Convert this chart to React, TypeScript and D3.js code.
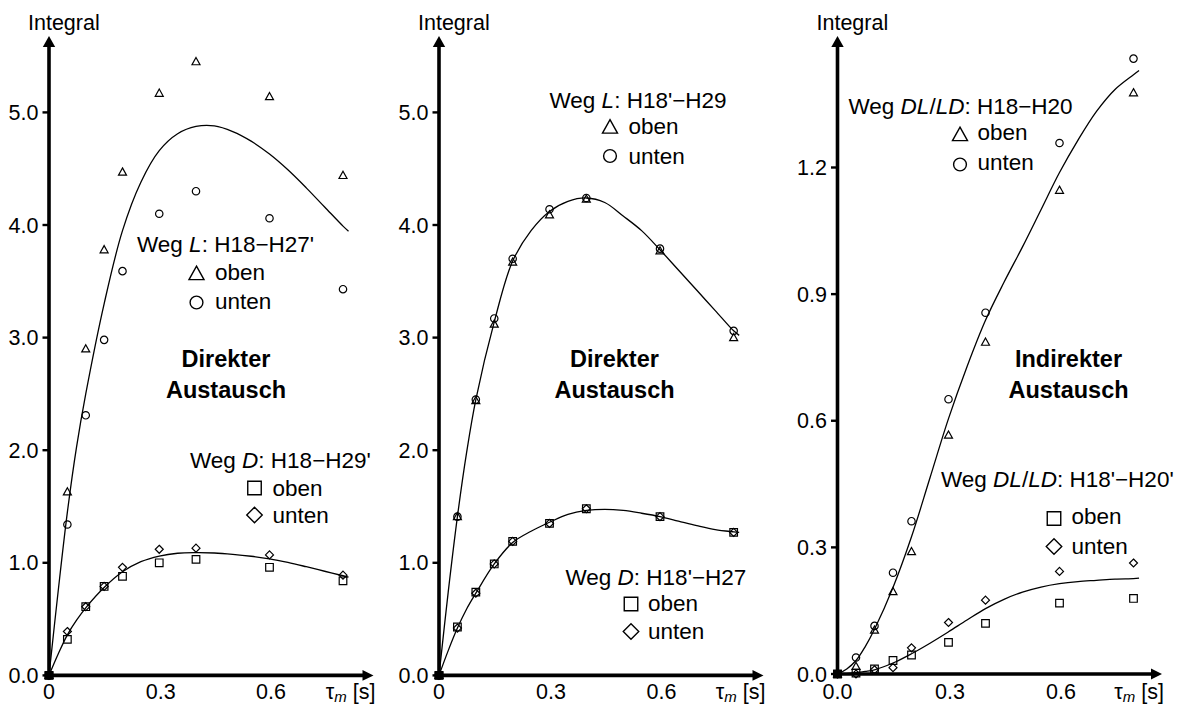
import React from "react";
import * as d3 from "d3";

// Mixing times (s) at which the cross-peak integrals were measured
const tm = [0, 0.05, 0.1, 0.15, 0.2, 0.3, 0.4, 0.6, 0.8];

// Panel 1 – direct exchange
const h18h27Oben = [0, 1.63, 2.9, 3.78, 4.47, 5.17, 5.45, 5.14, 4.44];
const h18h27Unten = [0, 1.34, 2.31, 2.98, 3.59, 4.1, 4.3, 4.06, 3.43];
const h18h29Oben = [0, 0.32, 0.61, 0.79, 0.88, 1.0, 1.03, 0.96, 0.84];
const h18h29Unten = [0, 0.39, 0.61, 0.79, 0.96, 1.12, 1.13, 1.07, 0.89];

// Panel 2 – direct exchange
const h18h29bOben = [0, 1.41, 2.44, 3.12, 3.67, 4.09, 4.23, 3.77, 3.0];
const h18h29bUnten = [0, 1.41, 2.45, 3.17, 3.7, 4.14, 4.24, 3.79, 3.06];
const h18h27bOben = [0, 0.43, 0.74, 0.99, 1.19, 1.35, 1.48, 1.41, 1.27];
const h18h27bUnten = [0, 0.42, 0.73, 0.99, 1.19, 1.35, 1.48, 1.41, 1.27];

// Panel 3 – indirect exchange
const h18h20Oben = [0, 0.018, 0.104, 0.195, 0.29, 0.566, 0.786, 1.146, 1.377];
const h18h20Unten = [0, 0.039, 0.114, 0.24, 0.362, 0.651, 0.856, 1.258, 1.458];
const h18h20bOben = [0, 0.002, 0.012, 0.032, 0.045, 0.075, 0.12, 0.168, 0.179];
const h18h20bUnten = [0, 0.0, 0.01, 0.015, 0.062, 0.122, 0.175, 0.243, 0.263];

// Fitted build-up curves, sampled along the mixing time
const fitT = [0, 0.025, 0.05, 0.075, 0.1, 0.15, 0.2, 0.25, 0.3, 0.35, 0.4, 0.45, 0.5, 0.55, 0.6, 0.65, 0.7, 0.75, 0.8, 0.815];
const fitH18H27 = [0, 0.75, 1.45, 2.03, 2.5, 3.3, 3.95, 4.38, 4.66, 4.81, 4.875, 4.88, 4.83, 4.745, 4.63, 4.49, 4.33, 4.16, 3.99, 3.945];
const fitH18H29 = [0, 0.19, 0.36, 0.49, 0.6, 0.78, 0.92, 1.01, 1.06, 1.085, 1.09, 1.087, 1.075, 1.058, 1.035, 1.003, 0.965, 0.925, 0.885, 0.872];
const fitH18H29b = [0, 0.74, 1.41, 1.98, 2.45, 3.14, 3.68, 3.95, 4.12, 4.21, 4.24, 4.2, 4.08, 3.95, 3.78, 3.6, 3.42, 3.24, 3.06, 3.02];
const fitH18H27b = [0, 0.22, 0.42, 0.59, 0.73, 0.99, 1.18, 1.28, 1.36, 1.43, 1.465, 1.475, 1.465, 1.44, 1.41, 1.37, 1.33, 1.295, 1.275, 1.27];
const fitH18H20 = [0, 0.012, 0.032, 0.065, 0.106, 0.205, 0.325, 0.465, 0.605, 0.728, 0.838, 0.928, 1.012, 1.1, 1.188, 1.265, 1.333, 1.385, 1.42, 1.43];
const fitH18H20b = [0, 0.001, 0.003, 0.006, 0.01, 0.026, 0.048, 0.073, 0.1, 0.128, 0.155, 0.177, 0.194, 0.206, 0.214, 0.219, 0.222, 0.225, 0.226, 0.227];

// Axis ticks
const xTicksA = [0, 0.3, 0.6];
const xTickLabelsA = ["0", "0.3", "0.6"];
const xTickLabelsC = ["0.0", "0.3", "0.6"];
const yTicksAB = [0, 1, 2, 3, 4, 5];
const yTicksC = [0, 0.3, 0.6, 0.9, 1.2];

const FONT = "'Liberation Sans', Arial, Helvetica, sans-serif";
const X_LABEL_BASELINE = 699;

type Sym = "tri" | "circ" | "sq" | "dia";

function symbolPath(s: Sym, size: number): string {
  const r = size / 2;
  if (s === "tri") {
    const h = size * 0.9;
    return `M0,${-h * 0.58}L${r},${h * 0.42}L${-r},${h * 0.42}Z`;
  }
  if (s === "sq") return `M${-r},${-r}H${r}V${r}H${-r}Z`;
  if (s === "dia") return `M0,${-r}L${r},0L0,${r}L${-r},0Z`;
  return `M${r},0A${r},${r} 0 1,1 ${-r},0A${r},${r} 0 1,1 ${r},0Z`;
}

interface Series {
  values: number[];
  sym: Sym;
}

interface LegendBlock {
  title: React.ReactNode;
  tx: number;
  ty: number;
  sx: number;
  lx: number;
  rows: { sym: Sym; label: string; cy: number; by: number }[];
}

interface PanelProps {
  x0: number;
  x06: number;
  yRange: [number, number];
  yMax: number;
  yTicks: number[];
  yFmt: (v: number) => string;
  xLabels: string[];
  fits: number[][];
  series: Series[];
  legends: LegendBlock[];
  bold: [string, string];
  boldX: number;
}

const symSizeData: Record<Sym, number> = { tri: 8, circ: 7.4, sq: 7.6, dia: 8 };
const symSizeLegend: Record<Sym, number> = { tri: 15, circ: 12.8, sq: 13.5, dia: 15.5 };

function Panel(p: PanelProps) {
  const x = d3.scaleLinear().domain([0, 0.6]).range([p.x0, p.x06]);
  const y = d3.scaleLinear().domain([0, p.yMax]).range(p.yRange);
  const ox = x(0);
  const oy = y(0);
  const tipX = ox + 324.5;
  const tipY = 36;
  const line = d3
    .line<number>()
    .x((_, i) => x(fitT[i]))
    .y((d) => y(d))
    .curve(d3.curveCatmullRom.alpha(0.5));

  return (
    <g fontFamily={FONT} fill="#000">
      {/* axes with arrowheads */}
      <line x1={ox} y1={oy + 2} x2={ox} y2={tipY + 9} stroke="#000" strokeWidth={3.6} />
      <path d={`M${ox},${tipY}L${ox - 6.2},${tipY + 11}L${ox + 6.2},${tipY + 11}Z`} fill="#000" />
      <line x1={ox - 2} y1={oy} x2={tipX - 9} y2={oy} stroke="#000" strokeWidth={3.6} />
      <path d={`M${tipX},${oy}L${tipX - 11},${oy - 5.4}L${tipX - 11},${oy + 5.4}Z`} fill="#000" />

      {p.yTicks.map((t) => (
        <g key={t}>
          <line x1={ox - 6.5} x2={ox} y1={y(t)} y2={y(t)} stroke="#000" strokeWidth={2.4} />
          <text x={ox - 10.5} y={y(t) + 7.6} fontSize={21.5} textAnchor="end">
            {p.yFmt(t)}
          </text>
        </g>
      ))}
      {xTicksA.map((t, i) => (
        <text key={t} x={x(t) + (t > 0 ? 1.5 : 0)} y={X_LABEL_BASELINE} fontSize={21.5} textAnchor="middle">
          {p.xLabels[i]}
        </text>
      ))}
      <text x={tipX + 2} y={X_LABEL_BASELINE} fontSize={21.5} textAnchor="end">
        τ<tspan fontSize={15} fontStyle="italic" dy={2.5}>m</tspan>
        <tspan dy={-2.5}> [s]</tspan>
      </text>
      <text x={ox - 21} y={30} fontSize={21.5}>
        Integral
      </text>

      {/* fitted curves */}
      {p.fits.map((f, i) => (
        <path key={i} d={line(f) || ""} fill="none" stroke="#000" strokeWidth={1.3} />
      ))}

      {/* measured points */}
      {p.series.map((s, si) =>
        s.values.map((v, i) => (
          <path
            key={`${si}-${i}`}
            d={symbolPath(s.sym, symSizeData[s.sym])}
            transform={`translate(${x(tm[i])},${y(v)})`}
            fill="none"
            stroke="#000"
            strokeWidth={1.2}
          />
        ))
      )}
      <rect x={ox - 4.5} y={oy - 4} width={9} height={8} fill="#000" />

      {/* legends */}
      {p.legends.map((l, li) => (
        <g key={li}>
          <text x={l.tx} y={l.ty} fontSize={22.5}>
            {l.title}
          </text>
          {l.rows.map((r, ri) => (
            <g key={ri}>
              <path
                d={symbolPath(r.sym, symSizeLegend[r.sym])}
                transform={`translate(${l.sx},${r.cy})`}
                fill="none"
                stroke="#000"
                strokeWidth={1.4}
              />
              <text x={l.lx} y={r.by} fontSize={22.5}>
                {r.label}
              </text>
            </g>
          ))}
        </g>
      ))}

      <text x={p.boldX} y={367} fontSize={23.5} fontWeight="bold" textAnchor="middle">
        {p.bold[0]}
      </text>
      <text x={p.boldX} y={398} fontSize={23.5} fontWeight="bold" textAnchor="middle">
        {p.bold[1]}
      </text>
    </g>
  );
}

const fmt1 = (v: number) => v.toFixed(1);

export default function App() {
  return (
    <svg
      width={1177}
      height={704}
      viewBox="0 0 1177 704"
      style={{ position: "absolute", left: 0, top: 0, background: "#fff" }}
    >
      <Panel
        x0={49}
        x06={269.5}
        yRange={[675.4, 112.4]}
        yMax={5}
        yTicks={yTicksAB}
        yFmt={fmt1}
        xLabels={xTickLabelsA}
        fits={[fitH18H27, fitH18H29]}
        series={[
          { values: h18h27Oben, sym: "tri" },
          { values: h18h27Unten, sym: "circ" },
          { values: h18h29Oben, sym: "sq" },
          { values: h18h29Unten, sym: "dia" },
        ]}
        legends={[
          {
            title: (
              <>
                Weg <tspan fontStyle="italic">L</tspan>: H18−H27'
              </>
            ),
            tx: 137,
            ty: 252,
            sx: 196.5,
            lx: 215,
            rows: [
              { sym: "tri", label: "oben", cy: 274, by: 279.5 },
              { sym: "circ", label: "unten", cy: 302.5, by: 309 },
            ],
          },
          {
            title: (
              <>
                Weg <tspan fontStyle="italic">D</tspan>: H18−H29'
              </>
            ),
            tx: 190,
            ty: 467.5,
            sx: 254.5,
            lx: 272.5,
            rows: [
              { sym: "sq", label: "oben", cy: 488, by: 495.5 },
              { sym: "dia", label: "unten", cy: 515, by: 522.5 },
            ],
          },
        ]}
        bold={["Direkter", "Austausch"]}
        boldX={226}
      />
      <Panel
        x0={439}
        x06={660}
        yRange={[675.4, 112.4]}
        yMax={5}
        yTicks={yTicksAB}
        yFmt={fmt1}
        xLabels={xTickLabelsA}
        fits={[fitH18H29b, fitH18H27b]}
        series={[
          { values: h18h29bOben, sym: "tri" },
          { values: h18h29bUnten, sym: "circ" },
          { values: h18h27bOben, sym: "sq" },
          { values: h18h27bUnten, sym: "dia" },
        ]}
        legends={[
          {
            title: (
              <>
                Weg <tspan fontStyle="italic">L</tspan>: H18'−H29
              </>
            ),
            tx: 549.5,
            ty: 107.5,
            sx: 610,
            lx: 628.5,
            rows: [
              { sym: "tri", label: "oben", cy: 127.5, by: 133.5 },
              { sym: "circ", label: "unten", cy: 156, by: 163.5 },
            ],
          },
          {
            title: (
              <>
                Weg <tspan fontStyle="italic">D</tspan>: H18'−H27
              </>
            ),
            tx: 565.5,
            ty: 584.5,
            sx: 631,
            lx: 648,
            rows: [
              { sym: "sq", label: "oben", cy: 604, by: 611 },
              { sym: "dia", label: "unten", cy: 631.5, by: 638.5 },
            ],
          },
        ]}
        bold={["Direkter", "Austausch"]}
        boldX={614.5}
      />
      <Panel
        x0={837.5}
        x06={1059.5}
        yRange={[674, 167.5]}
        yMax={1.2}
        yTicks={yTicksC}
        yFmt={fmt1}
        xLabels={xTickLabelsC}
        fits={[fitH18H20, fitH18H20b]}
        series={[
          { values: h18h20Oben, sym: "tri" },
          { values: h18h20Unten, sym: "circ" },
          { values: h18h20bOben, sym: "sq" },
          { values: h18h20bUnten, sym: "dia" },
        ]}
        legends={[
          {
            title: (
              <>
                Weg <tspan fontStyle="italic">DL</tspan>/<tspan fontStyle="italic">LD</tspan>: H18−H20
              </>
            ),
            tx: 848.5,
            ty: 113.5,
            sx: 960,
            lx: 977.5,
            rows: [
              { sym: "tri", label: "oben", cy: 135, by: 140 },
              { sym: "circ", label: "unten", cy: 164.5, by: 170 },
            ],
          },
          {
            title: (
              <>
                Weg <tspan fontStyle="italic">DL</tspan>/<tspan fontStyle="italic">LD</tspan>: H18'−H20'
              </>
            ),
            tx: 941,
            ty: 487,
            sx: 1054,
            lx: 1071.5,
            rows: [
              { sym: "sq", label: "oben", cy: 518.5, by: 524 },
              { sym: "dia", label: "unten", cy: 546.5, by: 553.5 },
            ],
          },
        ]}
        bold={["Indirekter", "Austausch"]}
        boldX={1068.5}
      />
    </svg>
  );
}
